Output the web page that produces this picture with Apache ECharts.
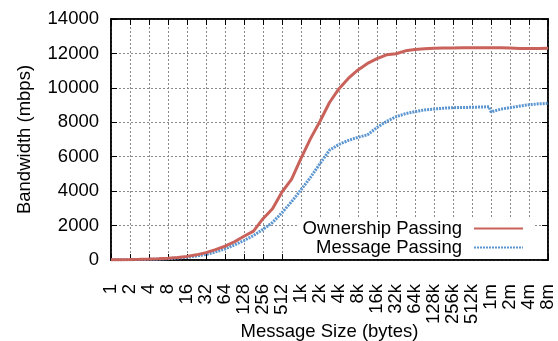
<!DOCTYPE html>
<html>
<head>
<meta charset="utf-8">
<script src="https://cdn.jsdelivr.net/npm/echarts@6/dist/echarts.min.js"></script>
<style>
  html, body { margin: 0; padding: 0; background: #fff; }
  #chart { width: 558px; height: 341px; }
</style>
</head>
<body>
<div id="chart"></div>
<script>
// Message sizes as log2(bytes); tick labels sit on the whole powers of two
const sizeLog2 = [0, 0.5, 1, 1.5, 2, 2.5, 3, 3.5, 4, 4.5, 5, 5.5, 6, 6.5, 7, 7.5,
  8, 8.5, 9, 9.5, 10, 10.5, 11, 11.5, 12, 12.5, 13, 13.5, 13.6, 14, 14.5, 15, 15.5,
  16, 16.5, 17, 17.5, 18, 18.5, 19, 19.5, 19.9, 20, 20.5, 21, 21.5, 22, 22.5, 23];

// Bandwidth in mbps
const ownershipPassing = [15, 20, 28, 38, 55, 75, 105, 150, 210, 300, 430, 600, 800, 1060, 1380, 1680,
  2400, 2980, 3950, 4680, 5900, 7050, 8060, 9150, 9950, 10560, 11040, 11420, 11480, 11700, 11920, 11980, 12150,
  12230, 12270, 12300, 12310, 12320, 12330, 12330, 12330, 12330, 12330, 12330, 12320, 12290, 12280, 12290, 12300];

const messagePassing = [8, 12, 18, 26, 38, 55, 80, 115, 160, 230, 320, 470, 640, 880, 1130, 1420,
  1780, 2180, 2750, 3380, 4080, 4800, 5600, 6380, 6720, 6950, 7130, 7270, 7200, 7700, 8050, 8320, 8500,
  8620, 8720, 8770, 8820, 8850, 8860, 8870, 8890, 8900, 8600, 8760, 8850, 8940, 9020, 9070, 9100];

const sizeLabels = ['1', '2', '4', '8', '16', '32', '64', '128', '256', '512',
  '1k', '2k', '4k', '8k', '16k', '32k', '64k', '128k', '256k', '512k', '1m', '2m', '4m', '8m'];

const FONT = '"Liberation Sans", Arial, sans-serif';
const FS = 18.5;

const pairs = (ys) => sizeLog2.map((x, i) => [x, ys[i]]);

const chart = echarts.init(document.getElementById('chart'), null, { renderer: 'canvas' });

const tickStyle = { show: true, inside: true, length: 6, lineStyle: { color: '#000', width: 1 } };
const axisLine = { show: true, onZero: false, lineStyle: { color: '#000', width: 1.5 } };
const gridLine = { show: true, lineStyle: { color: '#8a8a8a', width: 1, type: [2, 2] } };

const legendBase = {
  right: 23,
  orient: 'vertical', align: 'right',
  itemWidth: 49, itemHeight: 19, itemGap: 0,
  backgroundColor: '#fff',
  itemStyle: { opacity: 0 },
  textStyle: { fontFamily: FONT, fontSize: FS, color: '#000', padding: [0, 7, 0, 0] }
};

chart.setOption({
  animation: false,
  backgroundColor: '#fff',
  textStyle: { fontFamily: FONT },
  grid: {
    left: 111, right: 10, top: 19, bottom: 81,
    outerBoundsMode: 'none', containLabel: false,
    show: true, borderColor: '#000', borderWidth: 1.5
  },
  legend: [
    Object.assign({}, legendBase, { data: ['Ownership Passing'], top: 218, padding: [1, 11, 0, 4] }),
    Object.assign({}, legendBase, { data: ['Message Passing'], top: 238, padding: [0, 11, 2, 19] })
  ],
  xAxis: [
    {
      type: 'value', min: 0, max: 23, interval: 1, position: 'bottom',
      name: 'Message Size (bytes)', nameLocation: 'middle', nameGap: 62, nameMoveOverlap: false,
      nameTextStyle: { fontFamily: FONT, fontSize: FS, color: '#000' },
      axisLine: axisLine, axisTick: tickStyle, splitLine: gridLine,
      axisLabel: {
        rotate: 90, margin: 24, fontFamily: FONT, fontSize: FS, color: '#000',
        formatter: (v) => sizeLabels[Math.round(v)] || ''
      }
    },
    {
      type: 'value', min: 0, max: 23, interval: 1, position: 'top',
      axisLine: axisLine, axisTick: tickStyle, splitLine: { show: false }, axisLabel: { show: false }
    }
  ],
  yAxis: [
    {
      type: 'value', min: 0, max: 14000, interval: 2000, position: 'left',
      name: 'Bandwidth (mbps)', nameLocation: 'middle', nameGap: 77, nameMoveOverlap: false,
      nameTextStyle: { fontFamily: FONT, fontSize: FS, color: '#000' },
      axisLine: axisLine, axisTick: tickStyle, splitLine: gridLine,
      axisLabel: { margin: 12, fontFamily: FONT, fontSize: FS, color: '#000', formatter: (v) => String(v) }
    },
    {
      type: 'value', min: 0, max: 14000, interval: 2000, position: 'right',
      axisLine: axisLine, axisTick: tickStyle, splitLine: { show: false }, axisLabel: { show: false }
    }
  ],
  series: [
    {
      name: 'Ownership Passing', type: 'line', data: pairs(ownershipPassing),
      showSymbol: false, symbol: 'none', smooth: false,
      lineStyle: { color: '#c9625b', width: 3 },
      itemStyle: { color: '#c9625b' }, z: 3
    },
    {
      name: 'Message Passing', type: 'line', data: pairs(messagePassing),
      showSymbol: false, symbol: 'none', smooth: false,
      lineStyle: { color: '#5b96d0', width: 3, type: [2, 1] },
      itemStyle: { color: '#5b96d0' }, z: 2
    }
  ]
});
</script>
</body>
</html>
